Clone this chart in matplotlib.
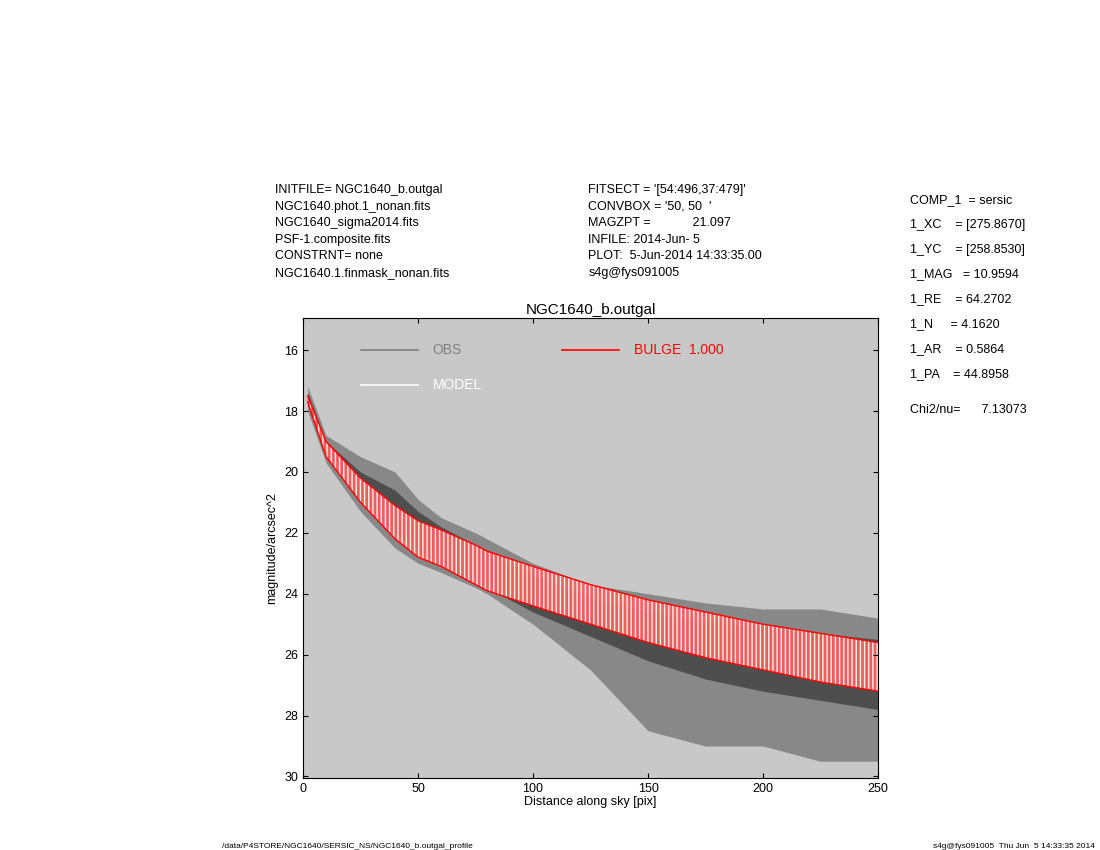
import numpy as np
import matplotlib.pyplot as plt

plt.rcParams['font.family'] = ['Liberation Sans', 'DejaVu Sans']

# radius samples [pix] and envelopes [mag/arcsec^2]
radius = [2, 10, 25, 40, 50, 60, 75, 80, 100, 125, 150, 175, 200, 225, 250]
obs_bright = [17.2, 18.8, 19.5, 20.0, 20.9, 21.5, 22.0, 22.2, 23.0, 23.7, 24.0, 24.3, 24.5, 24.5, 24.8]
obs_faint = [18.0, 19.7, 21.3, 22.5, 23.0, 23.3, 23.8, 24.0, 25.0, 26.5, 28.5, 29.0, 29.0, 29.5, 29.5]
obs_core_bright = [17.4, 19.0, 20.0, 20.6, 21.3, 21.8, 22.4, 22.6, 23.4, 24.1, 24.6, 24.9, 25.1, 25.3, 25.5]
obs_core_faint = [17.8, 19.5, 21.0, 22.0, 22.6, 23.0, 23.6, 23.8, 24.6, 25.4, 26.2, 26.8, 27.2, 27.5, 27.8]
mod_bright = [17.5, 19.0, 20.2, 21.1, 21.6, 21.9, 22.4, 22.6, 23.1, 23.7, 24.2, 24.6, 25.0, 25.3, 25.6]
mod_faint = [17.7, 19.5, 21.0, 22.2, 22.8, 23.1, 23.7, 23.9, 24.4, 25.0, 25.6, 26.1, 26.5, 26.9, 27.2]

left_txt = ["INITFILE= NGC1640_b.outgal", "NGC1640.phot.1_nonan.fits", "NGC1640_sigma2014.fits",
            "PSF-1.composite.fits", "CONSTRNT= none", "NGC1640.1.finmask_nonan.fits"]
mid_txt = ["FITSECT = '[54:496,37:479]'", "CONVBOX = '50, 50  '", "MAGZPT =            21.097",
           "INFILE: 2014-Jun- 5", "PLOT:  5-Jun-2014 14:33:35.00", "s4g@fys091005"]
right_txt = ["COMP_1  = sersic", "1_XC    = [275.8670]", "1_YC    = [258.8530]", "1_MAG   = 10.9594",
             "1_RE    = 64.2702", "1_N     = 4.1620", "1_AR    = 0.5864", "1_PA    = 44.8958"]

fig = plt.figure(figsize=(11, 8.5), dpi=100)
ax = fig.add_axes([0.2755, 0.0847, 0.5227, 0.541])
ax.set_facecolor('#c8c8c8')

ax.fill_between(radius, obs_bright, obs_faint, color='#555555', alpha=0.55, lw=0)
ax.fill_between(radius, obs_core_bright, obs_core_faint, color='#404040', alpha=0.8, lw=0)
ax.fill_between(radius, mod_bright, mod_faint, facecolor='#ff6060', edgecolor='white',
                hatch='||||', lw=0, alpha=0.9)
ax.plot(radius, mod_bright, color='red', lw=1)
ax.plot(radius, mod_faint, color='red', lw=1)

ax.set_xlim(0, 250)
ax.set_ylim(30.05, 14.95)
ax.set_xticks([0, 50, 100, 150, 200, 250])
ax.set_yticks([16, 18, 20, 22, 24, 26, 28, 30])
ax.tick_params(direction='in', labelsize=9, top=True, right=True)
ax.set_xlabel("Distance along sky [pix]", fontsize=9, labelpad=1)
ax.set_ylabel("magnitude/arcsec^2", fontsize=9)
ax.set_title("NGC1640_b.outgal", fontsize=11, pad=3)

# legend drawn in axes coordinates
ax.plot([0.1, 0.2], [0.93, 0.93], transform=ax.transAxes, color='#808080', lw=1.2)
ax.text(0.225, 0.93, "OBS", transform=ax.transAxes, color='#808080', fontsize=10, va='center')
ax.plot([0.1, 0.2], [0.855, 0.855], transform=ax.transAxes, color='white', lw=1.2)
ax.text(0.225, 0.855, "MODEL", transform=ax.transAxes, color='white', fontsize=10, va='center')
ax.plot([0.45, 0.55], [0.93, 0.93], transform=ax.transAxes, color='red', lw=1.2)
ax.text(0.575, 0.93, "BULGE  1.000", transform=ax.transAxes, color='red', fontsize=10, va='center')

for i, s in enumerate(left_txt):
    fig.text(0.25, 1 - (190 + 16.6 * i) / 850, s, fontsize=9, va='center')
for i, s in enumerate(mid_txt):
    fig.text(0.535, 1 - (190 + 16.6 * i) / 850, s, fontsize=9, va='center')
for i, s in enumerate(right_txt):
    fig.text(0.827, 1 - (200 + 24.8 * i) / 850, s, fontsize=9, va='center')
fig.text(0.827, 1 - 410 / 850, "Chi2/nu=      7.13073", fontsize=9, va='center')

fig.text(0.202, 1 - 846 / 850, "/data/P4STORE/NGC1640/SERSIC_NS/NGC1640_b.outgal_profile", fontsize=6, va='center')
fig.text(0.995, 1 - 846 / 850, "s4g@fys091005  Thu Jun  5 14:33:35 2014", fontsize=6, va='center', ha='right')

fig.savefig("out.png", dpi=100)
